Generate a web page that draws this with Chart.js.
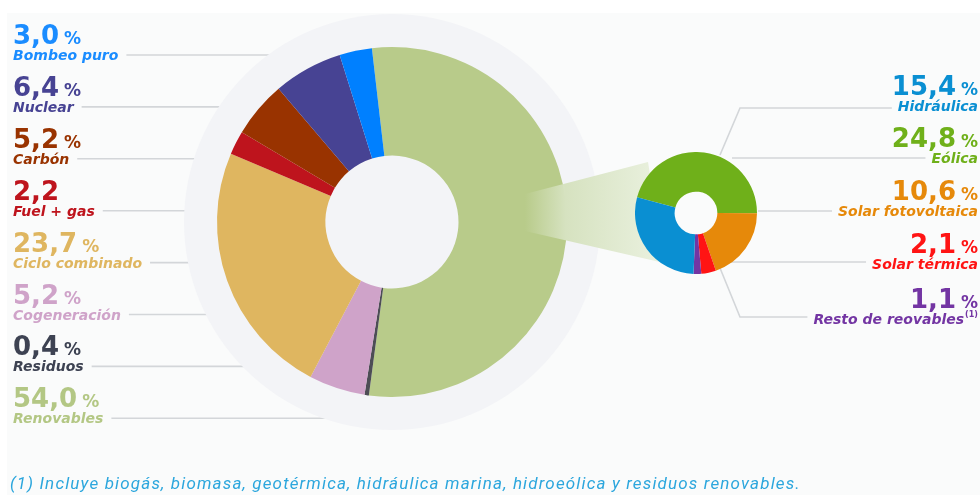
<!DOCTYPE html>
<html>
<head>
<meta charset="utf-8">
<script src="https://cdn.jsdelivr.net/npm/chart.js@4"></script>
<style>
  html, body { margin: 0; padding: 0; background: #ffffff; }
  #wrap { position: relative; width: 980px; height: 495px; }
  #mix { position: absolute; left: 0; top: 0; }
  #renov { position: absolute; left: 635px; top: 152px; }
</style>
</head>
<body>
<div id="wrap">
  <canvas id="mix" width="980" height="495"></canvas>
  <canvas id="renov" width="122" height="122"></canvas>
</div>
<script>
// Estructura de generación (%)
const mixLabels = ["Renovables", "Residuos", "Cogeneración", "Ciclo combinado", "Fuel + gas", "Carbón", "Nuclear", "Bombeo puro"];
const mixValues = [54.0, 0.4, 5.2, 23.7, 2.2, 5.2, 6.4, 3.0];
const mixColors = ["#b8cb8a", "#4d4d55", "#cfa3c9", "#dfb660", "#be141d", "#993300", "#474393", "#0080ff"];
const mixTextColors = ["#b3c784", "#3d4252", "#cfa3c9", "#dfb660", "#be141d", "#993300", "#474393", "#1a8cff"];
const mixNoPct = ["Fuel + gas"];

// Desglose de renovables (% sobre el total)
const renovLabels = ["Eólica", "Solar fotovoltaica", "Solar térmica", "Resto de reovables", "Hidráulica"];
const renovValues = [24.8, 10.6, 2.1, 1.1, 15.4];
const renovColors = ["#6fb01a", "#e6890a", "#ff1414", "#7335a3", "#0a8fd2"];

const footnote = "(1) Incluye biogás, biomasa, geotérmica, hidráulica marina, hidroeólica y residuos renovables.";

const fmt = v => v.toFixed(1).replace(".", ",");

const CX = 392, CY = 222, HALO = 208;
const lineGray = "#d3d6d9";

function drawLeftLabels(ctx, withText) {
  // de arriba abajo: orden inverso al del anillo
  for (let k = 0; k < mixLabels.length; k++) {
    const i = mixLabels.length - 1 - k;
    const numY = 44 + k * 51.9;
    const subY = numY + 16;
    const lineY = numY + 11;
    ctx.font = "bold oblique 14px 'DejaVu Sans'";
    const subW = ctx.measureText(mixLabels[i]).width;
    if (!withText) {
      ctx.strokeStyle = lineGray;
      ctx.lineWidth = 1.6;
      ctx.beginPath();
      ctx.moveTo(13 + subW + 8, lineY);
      ctx.lineTo(360, lineY);
      ctx.stroke();
      continue;
    }
    ctx.fillStyle = mixTextColors[i];
    ctx.textAlign = "left";
    ctx.fillText(mixLabels[i], 13, subY);
    ctx.font = "bold 26px 'DejaVu Sans'";
    const num = fmt(mixValues[i]);
    ctx.fillText(num, 13, numY);
    if (!mixNoPct.includes(mixLabels[i])) {
      const w = ctx.measureText(num).width;
      ctx.font = "bold 17px 'DejaVu Sans'";
      ctx.fillText("%", 13 + w + 5, numY);
    }
  }
}

function drawRightLabels(ctx) {
  const order = [4, 0, 1, 2, 3];
  const numYs = [95, 147, 200, 253, 308];
  const lineYs = [108, 158, 211, 262, 317];
  const starts = [[720, 155, 740], [null, null, 732], [null, null, 758], [null, null, 730], [720, 268, 740]];
  const R = 978;
  order.forEach((i, k) => {
    const numY = numYs[k];
    const subY = numY + 16;
    let supW = 0;
    if (i === 3) {
      ctx.font = "bold 8px 'DejaVu Sans'";
      supW = ctx.measureText("(1)").width + 1;
    }
    ctx.font = "bold oblique 14px 'DejaVu Sans'";
    const subW = ctx.measureText(renovLabels[i]).width;

    // línea guía
    ctx.strokeStyle = lineGray;
    ctx.lineWidth = 1.6;
    ctx.beginPath();
    const s = starts[k];
    if (s[0] !== null) {
      ctx.moveTo(s[0], s[1]);
      ctx.lineTo(s[2], lineYs[k]);
    } else {
      ctx.moveTo(s[2], lineYs[k]);
    }
    ctx.lineTo(R - supW - subW - 6, lineYs[k]);
    ctx.stroke();

    ctx.fillStyle = renovColors[i];
    ctx.textAlign = "right";
    ctx.fillText(renovLabels[i], R - supW, subY);
    if (supW) {
      ctx.font = "bold 8px 'DejaVu Sans'";
      ctx.fillText("(1)", R, subY - 7);
    }
    ctx.font = "bold 17px 'DejaVu Sans'";
    const pw = ctx.measureText("%").width;
    ctx.fillText("%", R, numY);
    ctx.font = "bold 26px 'DejaVu Sans'";
    ctx.fillText(fmt(renovValues[i]), R - pw - 5, numY);
  });
  ctx.textAlign = "left";
}

const backdrop = {
  id: "backdrop",
  beforeDraw(chart) {
    const ctx = chart.ctx;
    ctx.save();
    ctx.fillStyle = "#ffffff";
    ctx.fillRect(0, 0, chart.width, chart.height);
    ctx.fillStyle = "#fafbfb";
    ctx.fillRect(7, 13, chart.width - 7, chart.height - 13);
    drawLeftLabels(ctx, false);
    ctx.fillStyle = "#f3f4f7";
    ctx.beginPath();
    ctx.arc(CX, CY, HALO, 0, Math.PI * 2);
    ctx.fill();
    ctx.restore();
  },
  afterDatasetsDraw(chart) {
    // cuña que lleva al desglose de renovables
    const ctx = chart.ctx;
    ctx.save();
    const g = ctx.createLinearGradient(525, 0, 660, 0);
    g.addColorStop(0, "rgba(214,226,192,0)");
    g.addColorStop(0.3, "rgba(214,226,192,1)");
    g.addColorStop(1, "rgba(234,241,223,1)");
    ctx.fillStyle = g;
    ctx.beginPath();
    ctx.moveTo(525, 194);
    ctx.lineTo(648, 162);
    ctx.lineTo(664, 263);
    ctx.lineTo(525, 231);
    ctx.closePath();
    ctx.fill();
    ctx.restore();
  },
  afterDraw(chart) {
    const ctx = chart.ctx;
    ctx.save();
    drawLeftLabels(ctx, true);
    drawRightLabels(ctx);
    // nota al pie, repartida hasta x = 800
    ctx.font = "italic 17px Roboto";
    ctx.fillStyle = "#2ba6dd";
    ctx.textAlign = "left";
    const w0 = ctx.measureText(footnote).width;
    ctx.letterSpacing = Math.max(0, (790 - w0) / (footnote.length - 1)).toFixed(2) + "px";
    ctx.fillText(footnote, 10, 489);
    ctx.letterSpacing = "0px";
    ctx.restore();
  }
};

new Chart(document.getElementById("mix").getContext("2d"), {
  type: "doughnut",
  data: {
    labels: mixLabels,
    datasets: [{
      data: mixValues,
      backgroundColor: mixColors,
      borderWidth: 0,
      hoverOffset: 0
    }]
  },
  options: {
    responsive: false,
    animation: false,
    devicePixelRatio: 1,
    rotation: -6.6,
    cutout: "38%",
    layout: { padding: { left: 217, right: 413, top: 47, bottom: 98 } },
    plugins: { legend: { display: false }, tooltip: { enabled: false } },
    events: []
  },
  plugins: [backdrop]
});

new Chart(document.getElementById("renov").getContext("2d"), {
  type: "doughnut",
  data: {
    labels: renovLabels,
    datasets: [{
      data: renovValues,
      backgroundColor: renovColors,
      borderWidth: 0,
      hoverOffset: 0
    }]
  },
  options: {
    responsive: false,
    animation: false,
    devicePixelRatio: 1,
    rotation: -75,
    cutout: "35%",
    layout: { padding: 0 },
    plugins: { legend: { display: false }, tooltip: { enabled: false } },
    events: []
  }
});
</script>
</body>
</html>
